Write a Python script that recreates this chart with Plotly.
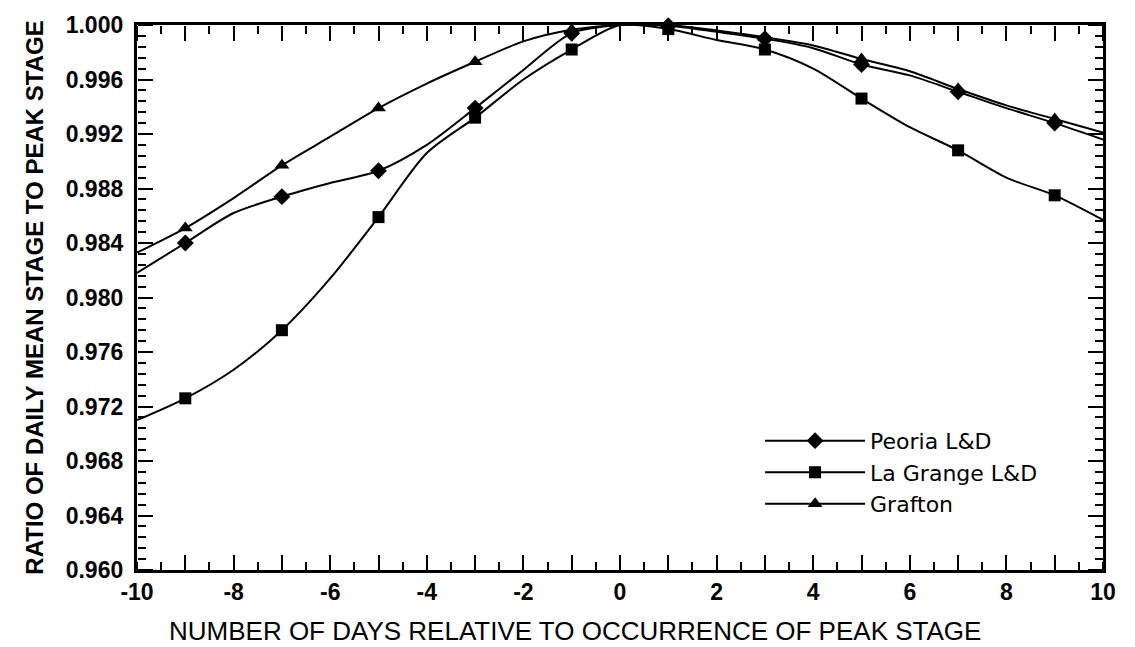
import plotly.graph_objects as go

days = list(range(-10, 11))
peoria = [0.9818, 0.9840, 0.9862, 0.9874, 0.9884, 0.9893, 0.9912, 0.9939, 0.9967, 0.9994, 1.0000,
          0.99995, 0.9995, 0.9990, 0.9983, 0.9971, 0.9963, 0.9951, 0.9939, 0.9928, 0.9916]
lagrange = [0.9710, 0.9726, 0.9747, 0.9776, 0.9814, 0.9859, 0.9906, 0.9932, 0.9960, 0.9982, 1.0000,
            0.9997, 0.9989, 0.9982, 0.9968, 0.9946, 0.9925, 0.9908, 0.9888, 0.9875, 0.9857]
grafton = [0.9833, 0.9851, 0.9873, 0.9897, 0.9918, 0.9939, 0.9957, 0.9973, 0.9988, 0.99965, 1.0000,
           1.0000, 0.9996, 0.9991, 0.9985, 0.9975, 0.9966, 0.9953, 0.9941, 0.9931, 0.9921]

series_names = ["Peoria L&D", "La Grange L&D", "Grafton"]
series_values = [peoria, lagrange, grafton]
symbols = ["diamond", "square", "triangle-up"]
msizes = [13, 12, 13]

x_range = [-10, 10]
y_range = [0.96, 1.0]
x_tick_vals = list(range(-10, 11))
x_tick_labels = [str(v) if v % 2 == 0 else "" for v in x_tick_vals]

x_title = "NUMBER OF DAYS RELATIVE TO OCCURRENCE OF PEAK STAGE"
y_title = "RATIO OF DAILY MEAN STAGE TO PEAK STAGE"

ARIAL = "Liberation Sans, Arial, sans-serif"

fig = go.Figure()
for name, vals, sym, ms in zip(series_names, series_values, symbols, msizes):
    fig.add_trace(go.Scatter(x=days, y=vals, mode="lines", showlegend=False,
                             line=dict(color="black", width=2, shape="spline", smoothing=0.8),
                             hoverinfo="skip"))
    mx = [d for d in days if d % 2 != 0]
    my = [v for d, v in zip(days, vals) if d % 2 != 0]
    fig.add_trace(go.Scatter(x=mx, y=my, mode="markers", showlegend=False, cliponaxis=False,
                             marker=dict(symbol=sym, size=ms, color="black")))
    fig.add_trace(go.Scatter(x=[None], y=[None], mode="lines+markers", name=name,
                             legendgroup=name,
                             line=dict(color="black", width=2),
                             marker=dict(symbol=sym, size=ms, color="black")))

# empty traces so the extra tick-only axes exist
for k in (2, 3, 4):
    fig.add_trace(go.Scatter(x=[None], y=[None], xaxis=f"x{k}", yaxis="y", showlegend=False,
                             mode="markers", hoverinfo="skip"))
for k in (2, 3, 4, 5):
    fig.add_trace(go.Scatter(x=[None], y=[None], xaxis="x", yaxis=f"y{k}", showlegend=False,
                             mode="markers", hoverinfo="skip"))


def tick_only(length, **kw):
    # tick-only axis placed on a plot edge, ticks pointing into the plot area
    d = dict(ticks="outside", ticklen=length, tickwidth=2, tickcolor="black",
             showgrid=False, zeroline=False, automargin=False,
             showticklabels=False, showline=False, anchor="free")
    d.update(kw)
    return d


fig.update_layout(
    template="simple_white",
    width=1135, height=647,
    margin=dict(l=137, r=32, t=25, b=77),
    plot_bgcolor="white", paper_bgcolor="white",
    font=dict(family=ARIAL, color="black"),
    showlegend=True,
    legend=dict(x=0.645, y=0.2755, xanchor="left", yanchor="top",
                bgcolor="rgba(0,0,0,0)", traceorder="grouped", tracegroupgap=0,
                itemwidth=100,
                font=dict(family="DejaVu Sans, sans-serif", size=22, color="black")),
    xaxis=dict(range=x_range, tickmode="array", tickvals=x_tick_vals, ticktext=x_tick_labels,
               ticks="inside", ticklen=15, tickwidth=2, tickcolor="black",
               showline=True, linewidth=2.5, linecolor="black", mirror=True,
               showgrid=False, zeroline=False, automargin=False,
               tickfont=dict(family=ARIAL, size=23, weight="bold", color="black")),
    yaxis=dict(range=y_range, tick0=0.96, dtick=0.004, tickformat=".3f", ticksuffix="\u00a0",
               ticks="", showline=True, linewidth=2.5, linecolor="black", mirror=True,
               showgrid=False, zeroline=False, automargin=False,
               tickfont=dict(family=ARIAL, size=23, weight="bold", color="black"),
               title=dict(text=y_title, font=dict(family=ARIAL, size=24, weight="bold", color="black"),
                          standoff=16)),
    # top major ticks (pointing down from the top edge)
    xaxis2=tick_only(15, range=x_range, tickmode="array", tickvals=x_tick_vals,
                     overlaying="x", side="bottom", position=1),
    # bottom minor ticks (pointing up from the bottom edge)
    xaxis3=tick_only(8, range=x_range, tick0=-10, dtick=0.5,
                     overlaying="x", side="top", position=0),
    # top minor ticks
    xaxis4=tick_only(8, range=x_range, tick0=-10, dtick=0.5,
                     overlaying="x", side="bottom", position=1),
    # left major / minor ticks (pointing right from the left edge)
    yaxis2=tick_only(15, range=y_range, tick0=0.96, dtick=0.004,
                     overlaying="y", side="right", position=0),
    yaxis3=tick_only(8, range=y_range, tick0=0.96, dtick=0.0008,
                     overlaying="y", side="right", position=0),
    # right major / minor ticks (pointing left from the right edge)
    yaxis4=tick_only(15, range=y_range, tick0=0.96, dtick=0.004,
                     overlaying="y", side="left", position=1),
    yaxis5=tick_only(8, range=y_range, tick0=0.96, dtick=0.0008,
                     overlaying="y", side="left", position=1),
    annotations=[dict(text=x_title, xref="paper", yref="paper", x=0.4534, y=-0.112,
                      xanchor="center", yanchor="middle", showarrow=False,
                      font=dict(family=ARIAL, size=26, color="black"))],
)

fig.write_html("out.html")
